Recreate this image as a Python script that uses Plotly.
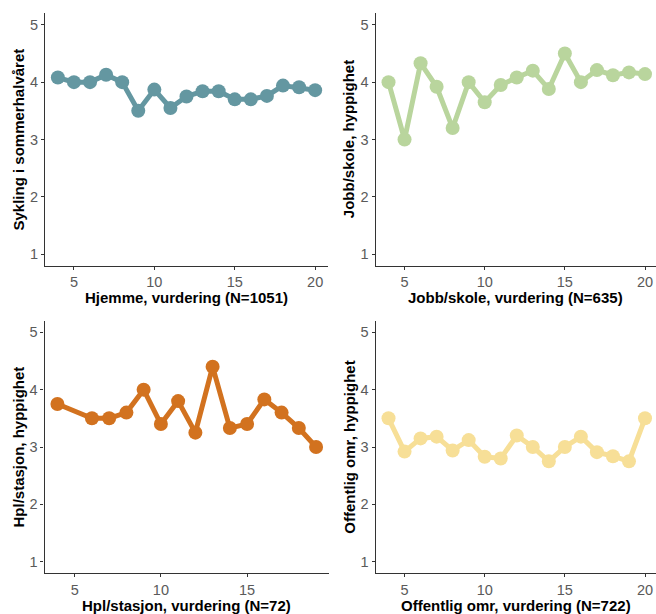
import plotly.graph_objects as go

# Average cycling frequency by rating score, one panel per location type
x_hjemme = list(range(4, 21))
y_hjemme = [4.08, 4.0, 4.0, 4.13, 4.0, 3.5, 3.87, 3.55, 3.75, 3.84, 3.84, 3.7, 3.7, 3.76, 3.94, 3.91, 3.86]

x_jobb = list(range(4, 21))
y_jobb = [4.0, 3.0, 4.33, 3.92, 3.2, 4.0, 3.65, 3.95, 4.08, 4.2, 3.88, 4.5, 4.0, 4.21, 4.12, 4.17, 4.14]

x_hpl = [4, 6, 7, 8, 9, 10, 11, 12, 13, 14, 15, 16, 17, 18, 19]
y_hpl = [3.75, 3.5, 3.5, 3.6, 4.0, 3.4, 3.8, 3.25, 4.4, 3.33, 3.4, 3.83, 3.6, 3.33, 3.0]

x_off = list(range(4, 21))
y_off = [3.5, 2.92, 3.15, 3.18, 2.94, 3.12, 2.83, 2.8, 3.2, 3.0, 2.75, 3.0, 3.18, 2.91, 2.84, 2.75, 3.5]

x_titles = ["Hjemme, vurdering (N=1051)", "Jobb/skole, vurdering (N=635)",
            "Hpl/stasjon, vurdering (N=72)", "Offentlig omr, vurdering (N=722)"]
y_titles = ["Sykling i sommerhalvåret", "Jobb/skole, hyppighet",
            "Hpl/stasjon, hyppighet", "Offentlig omr, hyppighet"]
colors = ["#6497A1", "#B9D59D", "#D2721F", "#F7DF97"]

W, H = 656, 614
series = [(x_hjemme, y_hjemme), (x_jobb, y_jobb), (x_hpl, y_hpl), (x_off, y_off)]

# panel frames in pixels: left, right, top, bottom, x-range
panels = [
    (45.0, 328.0, 13.3, 265.7, [3.2, 20.8]),
    (375.7, 656.0, 13.3, 265.7, [3.2, 3.2 + (656.0 - 375.7) / 16.03]),
    (44.5, 329.0, 320.8, 573.2, [3.25, 19.75]),
    (375.7, 656.0, 320.8, 573.2, [3.2, 3.2 + (656.0 - 375.7) / 16.03]),
]

FONT = "Liberation Sans, Arial, sans-serif"

fig = go.Figure()
annotations = []
for i, ((xs, ys), (l, r, t, b, xr)) in enumerate(zip(series, panels)):
    n = "" if i == 0 else str(i + 1)
    fig.add_trace(go.Scatter(
        x=xs, y=ys, mode="lines+markers",
        line=dict(color=colors[i], width=5),
        marker=dict(color=colors[i], size=14),
        xaxis="x" + n, yaxis="y" + n, showlegend=False, hoverinfo="x+y",
    ))
    axis_common = dict(
        showgrid=False, zeroline=False, showline=True, linecolor="#333333", linewidth=1.2,
        ticks="outside", ticklen=3, tickcolor="#333333", tickwidth=1,
        tickfont=dict(family=FONT, size=14.5, color="#5a5a5a"),
    )
    fig.update_layout(**{
        "xaxis" + n: dict(domain=[l / W, r / W], range=xr, anchor="y" + n,
                          tickvals=[5, 10, 15, 20], ticklabelstandoff=0, **axis_common),
        "yaxis" + n: dict(domain=[(H - b) / H, (H - t) / H], range=[0.8, 5.2], anchor="x" + n,
                          tickvals=[1, 2, 3, 4, 5], **axis_common),
    })
    title_font = dict(family=FONT, size=15, color="#000000")
    annotations.append(dict(
        text="<b>" + x_titles[i] + "</b>", xref="paper", yref="paper",
        x=(l + r) / 2 / W, y=(H - (b + 32)) / H, xanchor="center", yanchor="middle",
        showarrow=False, font=title_font,
    ))
    annotations.append(dict(
        text="<b>" + y_titles[i] + "</b>", xref="paper", yref="paper",
        x=(l - 27) / W, y=(H - (t + b) / 2) / H, xanchor="center", yanchor="middle",
        textangle=-90, showarrow=False, font=title_font,
    ))

fig.update_layout(
    width=W, height=H, margin=dict(l=0, r=0, t=0, b=0),
    paper_bgcolor="white", plot_bgcolor="white",
    annotations=annotations,
)

fig.write_html("out.html")
